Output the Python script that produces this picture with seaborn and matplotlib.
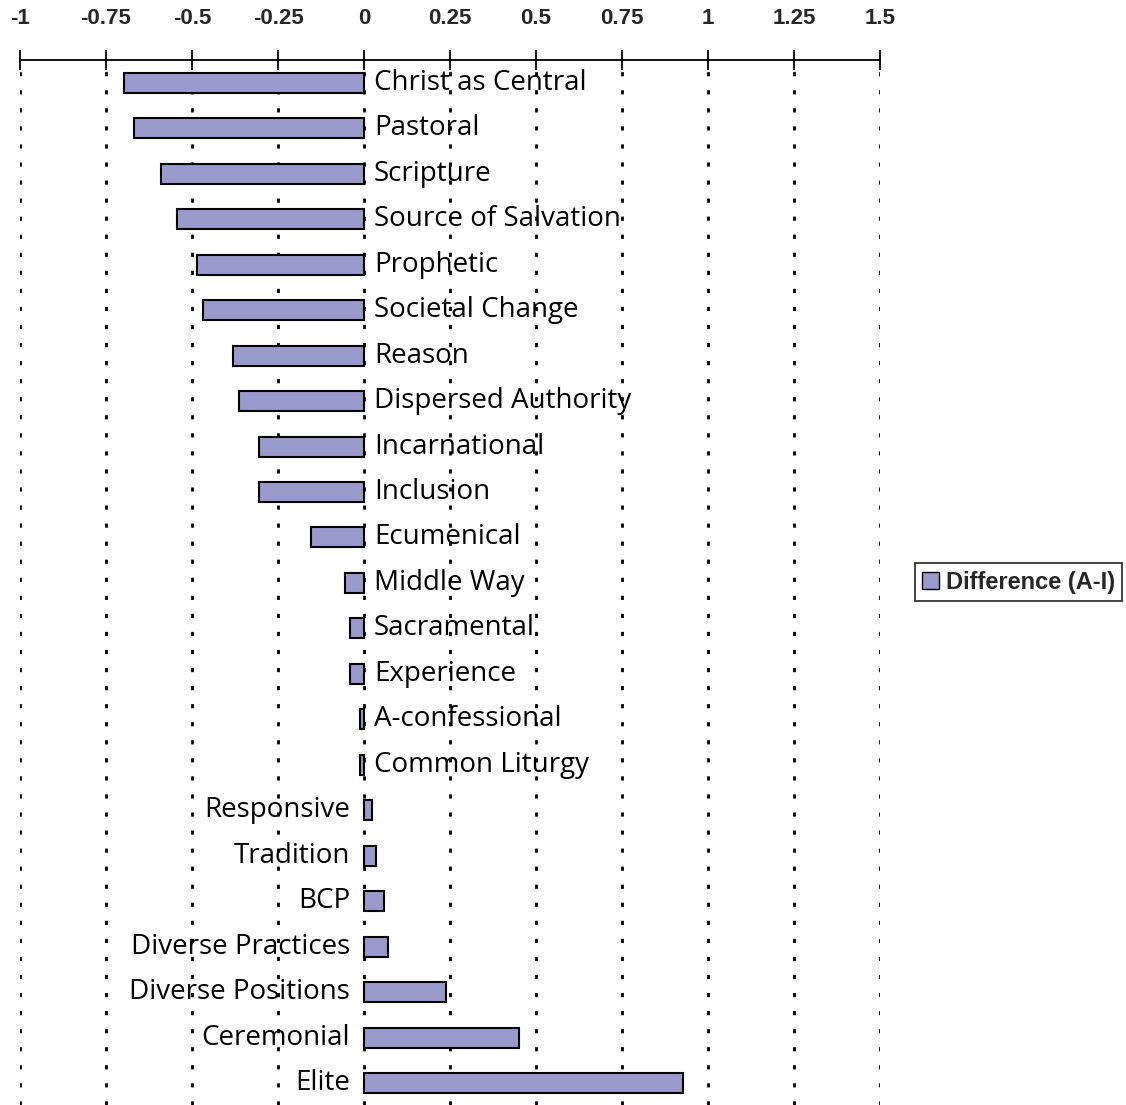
import matplotlib
matplotlib.use("Agg")
import matplotlib.pyplot as plt
import matplotlib.transforms as mtransforms
from matplotlib.patches import Patch
from matplotlib.ticker import FuncFormatter
import seaborn as sns
import pandas as pd

categories = ['Christ as Central', 'Pastoral', 'Scripture', 'Source of Salvation', 'Prophetic',
              'Societal Change', 'Reason', 'Dispersed Authority', 'Incarnational', 'Inclusion',
              'Ecumenical', 'Middle Way', 'Sacramental', 'Experience', 'A-confessional',
              'Common Liturgy', 'Responsive', 'Tradition', 'BCP', 'Diverse Practices',
              'Diverse Positions', 'Ceremonial', 'Elite']
difference = [-0.697, -0.668, -0.590, -0.543, -0.486, -0.468, -0.381, -0.362, -0.305, -0.305,
              -0.155, -0.056, -0.041, -0.041, -0.012, -0.012, 0.023, 0.035, 0.057, 0.070,
              0.239, 0.450, 0.928]
x_ticks = [-1, -0.75, -0.5, -0.25, 0, 0.25, 0.5, 0.75, 1, 1.25, 1.5]
legend_label = 'Difference (A-I)'

df = pd.DataFrame({'Category': categories, 'Difference': difference})

sns.set_style("white")
plt.rcParams['font.family'] = ['Liberation Sans', 'DejaVu Sans']

bar_color = '#9999cc'

fig = plt.figure(figsize=(11.26, 11.05), dpi=100)
ax = fig.add_axes([20 / 1126, 0.0, 860 / 1126, 1 - 60 / 1105])

sns.barplot(data=df, x='Difference', y='Category', orient='h', color=bar_color,
            width=0.44, edgecolor='black', linewidth=1.5, saturation=1, ax=ax)

ax.set_xlim(-1, 1.5)
ax.set_ylim(22.48, -0.5)
ax.set_xticks(x_ticks)
ax.xaxis.set_major_formatter(FuncFormatter(lambda v, p: f'{v:g}'))
ax.xaxis.tick_top()
ax.tick_params(axis='x', direction='inout', length=14, width=1.3, color='black',
               labelsize=16, pad=15)
for lbl in ax.get_xticklabels():
    lbl.set_fontweight('bold')
ax.set_yticks([])
ax.set_xlabel('')
ax.set_ylabel('')

for x in x_ticks:
    ax.axvline(x, color='black', linestyle=(0, (1.5, 5)), linewidth=2, zorder=0)

for side in ['left', 'right', 'bottom']:
    ax.spines[side].set_visible(False)
ax.spines['top'].set_linewidth(1.3)
ax.spines['top'].set_color('black')

# category labels next to the zero line
right_off = mtransforms.offset_copy(ax.transData, fig=fig, x=10, y=0, units='dots')
left_off = mtransforms.offset_copy(ax.transData, fig=fig, x=-14, y=0, units='dots')
for i, (cat, val) in enumerate(zip(categories, difference)):
    if val < 0:
        ax.text(0, i, cat, transform=right_off, ha='left', va='center',
                fontsize=20, family=['Open Sans', 'DejaVu Sans'], color='black')
    else:
        ax.text(0, i, cat, transform=left_off, ha='right', va='center',
                fontsize=20, family=['Open Sans', 'DejaVu Sans'], color='black')

handle = Patch(facecolor=bar_color, edgecolor='black', linewidth=1)
leg = fig.legend([handle], [legend_label], loc='center left',
                 bbox_to_anchor=(915 / 1126, 1 - 582 / 1105), frameon=True, fancybox=False,
                 prop={'weight': 'bold', 'size': 17}, handlelength=0.7, handleheight=0.7,
                 handletextpad=0.3, borderpad=0.3, borderaxespad=0)
leg.get_frame().set_edgecolor('black')
leg.get_frame().set_linewidth(1.3)

fig.savefig('out.png', dpi=100)
